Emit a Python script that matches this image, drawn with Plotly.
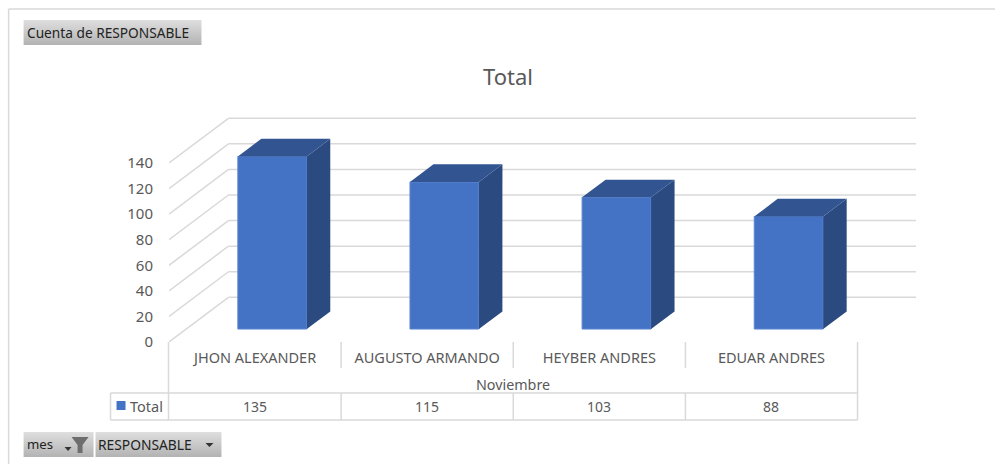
import plotly.graph_objects as go

# --- data ---
responsables = ["JHON ALEXANDER", "AUGUSTO ARMANDO", "HEYBER ANDRES", "EDUAR ANDRES"]
totales = [135, 115, 103, 88]
ticks = [0, 20, 40, 60, 80, 100, 120, 140]
grupo = "Noviembre"
serie = "Total"
titulo = "Total"
medida = "Cuenta de RESPONSABLE"

# --- geometry (pixels in the 995x464 frame) ---
W, H = 995, 464
PL, PR, PT, PB = 168.5, 916, 100, 342   # plot area
CAT = 172.25                            # px per category
UNIT = 179 / 140                        # px per value unit
DX, DY = 59.5, 44.7                     # depth vector of the 3D wall
FRONT, SIDE, TOP = "#4472C4", "#2A4A80", "#325592"
GRID = "#D9D9D9"
TXT = "#595959"
FONT = "Noto Sans, Open Sans, sans-serif"
BTNFONT = "Noto Sans, sans-serif"

def pro(cat, val, d):
    """Project (category, value, depth) to the axes' data coordinates."""
    return cat + d * DX / CAT, val + d * DY / UNIT

def px(x): return (x - PL) / (PR - PL)
def py(y): return (PB - y) / (PB - PT)

shapes, ann = [], []

def line(x0, y0, x1, y1, c=GRID, w=1.5):
    shapes.append(dict(type="line", xref="paper", yref="paper", x0=px(x0), x1=px(x1),
                       y0=py(y0), y1=py(y1), line=dict(color=c, width=w), layer="below"))

def label(x, y, t, size=14, c=TXT, anchor="center", fam=FONT):
    ann.append(dict(xref="paper", yref="paper", x=px(x), y=py(y), text=t, showarrow=False,
                    xanchor=anchor, yanchor="middle", font=dict(family=fam, size=size, color=c)))

def button(x0, x1, y0, y1):
    n = int(y1 - y0)
    for i in range(n):
        t = i / max(n - 1, 1)
        g = int(222 - 42 * t)
        shapes.append(dict(type="rect", xref="paper", yref="paper", x0=px(x0), x1=px(x1),
                           y0=py(y0 + i), y1=py(y0 + i + 1), line=dict(width=0),
                           fillcolor=f"rgb({g},{g},{g})", layer="below"))

def path(pts, c):
    d = "M " + " L ".join(f"{px(x):.5f},{py(y):.5f}" for x, y in pts) + " Z"
    shapes.append(dict(type="path", xref="paper", yref="paper", path=d, fillcolor=c,
                       line=dict(width=0), layer="above"))

# wall gridlines, in data coordinates
for t in ticks:
    x1, y1 = pro(-0.5, t, 1)
    xe = -0.5 + (PR - PL) / CAT
    shapes.append(dict(type="line", xref="x", yref="y", x0=-0.5, y0=t, x1=x1, y1=y1,
                       line=dict(color=GRID, width=1.5), layer="below"))
    shapes.append(dict(type="line", xref="x", yref="y", x0=x1, y0=y1, x1=xe, y1=y1,
                       line=dict(color=GRID, width=1.5), layer="below"))

# table and frame
line(8, 9, 995, 9); line(8, 9, 8, 464)
line(168, 342, 168, 393)
for i in (1, 2, 3):
    line(PL + i * CAT, 342, PL + i * CAT, 368)
    line(PL + i * CAT, 393, PL + i * CAT, 420)
line(PL + 4 * CAT, 342, PL + 4 * CAT, 420)
line(110, 393, PL + 4 * CAT, 393); line(110, 420, PL + 4 * CAT, 420)
line(110, 393, 110, 420); line(168, 393, 168, 420)

label(513, 384, grupo, 14.3)
shapes.append(dict(type="rect", xref="paper", yref="paper", x0=px(116), x1=px(125), y0=py(401),
                   y1=py(410), fillcolor=FRONT, line=dict(width=0)))
label(146, 406, serie, 14.5)
for i, v in enumerate(totales):
    ann.append(dict(xref="x", yref="paper", x=i, y=py(406), text=str(v), showarrow=False,
                    xanchor="center", yanchor="middle", font=dict(family=FONT, size=14, color=TXT)))

# chart title
label(508, 76, titulo, 22)

# buttons
button(23, 201, 20, 45)
label(24, 32.5, medida, 13.7, "#222222", "left", BTNFONT)
button(23, 93, 432, 457)
label(24, 444, "mes", 13.2, "#222222", "left", BTNFONT)
path([(64, 447), (71, 447), (67.5, 451)], "#333333")
path([(71, 437), (88, 437), (82, 445), (82, 453), (77, 453), (77, 445)], "#6E6E6E")
button(95, 221, 432, 457)
label(95, 444, "RESPONSABLE", 13.8, "#222222", "left", BTNFONT)
path([(205, 443), (213, 443), (209, 447)], "#333333")

# bars
D0, D1, BW = 0.29, 0.685, 69 / CAT
fig = go.Figure()
cats = list(range(len(totales)))
x0, base = pro(0, 0, D0)
fig.add_trace(go.Bar(x=[c + (x0 - 0) for c in cats], y=totales, base=[base] * len(totales),
                     width=BW, marker=dict(color=FRONT, line=dict(color="#5B87D3", width=1)),
                     showlegend=False, hoverinfo="skip"))
for c, v in zip(cats, totales):
    xl, y0 = pro(c - BW / 2, 0, D0)
    xr = xl + BW
    yt = y0 + v
    xb, yb = pro(xr, 0, D1 - D0)
    ddx, ddy = xb - xr, yb
    fig.add_trace(go.Scatter(x=[xr, xr + ddx, xr + ddx, xr, xr], y=[y0, y0 + ddy, yt + ddy, yt, y0],
                             mode="lines", fill="toself", fillcolor=SIDE, line=dict(width=0),
                             showlegend=False, hoverinfo="skip"))
    fig.add_trace(go.Scatter(x=[xl, xr, xr + ddx, xl + ddx, xl], y=[yt, yt, yt + ddy, yt + ddy, yt],
                             mode="lines", fill="toself", fillcolor=TOP, line=dict(width=0),
                             showlegend=False, hoverinfo="skip"))

fig.update_layout(
    width=W, height=H, margin=dict(l=PL, r=W - PR, t=PT, b=H - PB, pad=0),
    paper_bgcolor="white", plot_bgcolor="rgba(0,0,0,0)", shapes=shapes, annotations=ann,
    barmode="overlay", autosize=False,
    xaxis=dict(range=[-0.5, -0.5 + (PR - PL) / CAT], tickvals=cats, ticktext=responsables,
               showgrid=False, zeroline=False, showline=False, ticks="",
               tickfont=dict(family=FONT, size=14.5, color=TXT), ticklabelstandoff=5, tickangle=0),
    yaxis=dict(range=[0, (PB - PT) / UNIT], tickvals=ticks, showgrid=False, zeroline=False,
               showline=False, ticks="", tickfont=dict(family=FONT, size=15, color=TXT),
               ticklabelstandoff=15),
)
fig.write_html("out.html", config=dict(displayModeBar=False),
               post_script="document.body.style.margin='0';document.body.style.overflow='hidden';")
